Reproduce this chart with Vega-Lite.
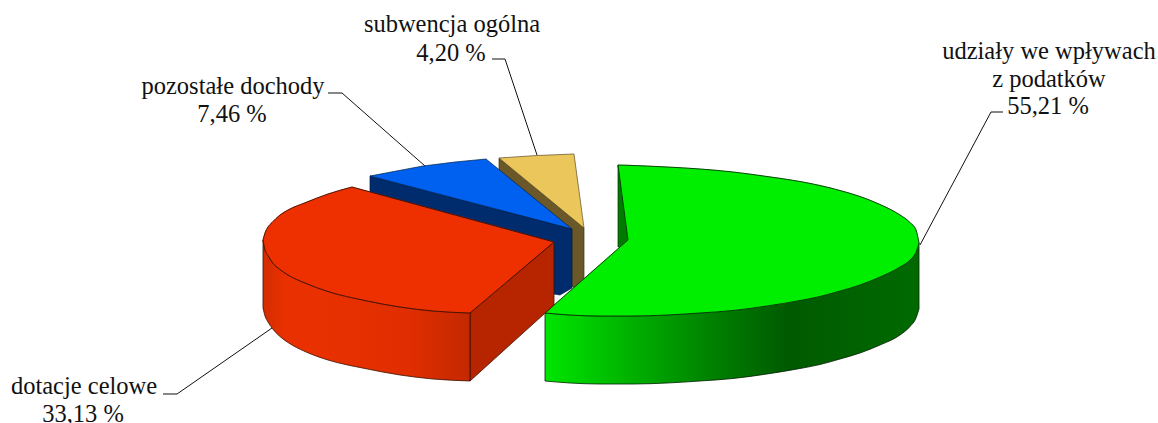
{"$schema":"https://vega.github.io/schema/vega-lite/v6.json","width":1158,"height":423,"padding":0,"autosize":"none","background":"white","config":{"view":{"stroke":null}},
"datasets":{
"faces":[
{"face":"subwencja_side","x":499,"y":158,"y2":226},{"face":"subwencja_side","x":584,"y":228,"y2":296},
{"face":"subwencja_top","x":499,"y":158,"y2":158},{"face":"subwencja_top","x":537,"y":155.5,"y2":189.3},{"face":"subwencja_top","x":574,"y":154,"y2":219.8},{"face":"subwencja_top","x":584,"y":228,"y2":228},
{"face":"pozostale_side","x":370,"y":176,"y2":244},{"face":"pozostale_side","x":554,"y":224.3,"y2":294},{"face":"pozostale_side","x":560,"y":225.9,"y2":295},{"face":"pozostale_side","x":572,"y":229,"y2":288},
{"face":"pozostale_top","x":370,"y":176,"y2":176},{"face":"pozostale_top","x":423,"y":166,"y2":189.9},{"face":"pozostale_top","x":455,"y":162,"y2":198.3},{"face":"pozostale_top","x":486,"y":159,"y2":206.4},{"face":"pozostale_top","x":572,"y":229,"y2":229},
{"face":"udzialy_notch","x":618,"y":165,"y2":247},{"face":"udzialy_notch","x":619,"y":172.5,"y2":247},{"face":"udzialy_notch","x":628,"y":240,"y2":240},
{"face":"udzialy_side","x":545,"y":313,"y2":381},{"face":"udzialy_side","x":570,"y":315,"y2":383},{"face":"udzialy_side","x":600,"y":316,"y2":384},{"face":"udzialy_side","x":633,"y":316,"y2":384},{"face":"udzialy_side","x":667,"y":315,"y2":383},{"face":"udzialy_side","x":700,"y":313,"y2":381},{"face":"udzialy_side","x":733,"y":310.5,"y2":378.5},{"face":"udzialy_side","x":767,"y":306,"y2":374},{"face":"udzialy_side","x":800,"y":300.5,"y2":368.5},{"face":"udzialy_side","x":820,"y":296.5,"y2":364.5},{"face":"udzialy_side","x":840,"y":291,"y2":359},{"face":"udzialy_side","x":860,"y":285,"y2":353},{"face":"udzialy_side","x":880,"y":277,"y2":345},{"face":"udzialy_side","x":900,"y":267,"y2":335},{"face":"udzialy_side","x":910,"y":260,"y2":326.5},{"face":"udzialy_side","x":916,"y":252,"y2":318},{"face":"udzialy_side","x":919,"y":243,"y2":309},
{"face":"udzialy_top_a","x":545,"y":313,"y2":313},{"face":"udzialy_top_a","x":570,"y":291,"y2":315},{"face":"udzialy_top_a","x":600,"y":264.6,"y2":316},{"face":"udzialy_top_a","x":628,"y":240,"y2":316},
{"face":"udzialy_top_c","x":618,"y":165,"y2":165},{"face":"udzialy_top_c","x":628,"y":165.3,"y2":240},
{"face":"udzialy_top_b","x":628,"y":165.3,"y2":316},{"face":"udzialy_top_b","x":667,"y":167,"y2":315},{"face":"udzialy_top_b","x":700,"y":169,"y2":313},{"face":"udzialy_top_b","x":733,"y":172,"y2":310.5},{"face":"udzialy_top_b","x":767,"y":176.5,"y2":306},{"face":"udzialy_top_b","x":800,"y":181.5,"y2":300.5},{"face":"udzialy_top_b","x":820,"y":185.5,"y2":296.5},{"face":"udzialy_top_b","x":840,"y":190.5,"y2":291},{"face":"udzialy_top_b","x":860,"y":196.5,"y2":285},{"face":"udzialy_top_b","x":880,"y":204.5,"y2":277},{"face":"udzialy_top_b","x":900,"y":215,"y2":267},{"face":"udzialy_top_b","x":910,"y":222.5,"y2":260},{"face":"udzialy_top_b","x":916,"y":230,"y2":252},{"face":"udzialy_top_b","x":919,"y":243,"y2":243},
{"face":"dotacje_end","x":470,"y":313,"y2":381},{"face":"dotacje_end","x":554,"y":242,"y2":305},
{"face":"dotacje_side","x":263,"y":240,"y2":308},{"face":"dotacje_side","x":265,"y":250,"y2":316},{"face":"dotacje_side","x":268,"y":255.5,"y2":322},{"face":"dotacje_side","x":272,"y":262,"y2":328},{"face":"dotacje_side","x":280,"y":269.5,"y2":336.5},{"face":"dotacje_side","x":288,"y":275,"y2":342.5},{"face":"dotacje_side","x":305,"y":283,"y2":351.5},{"face":"dotacje_side","x":328,"y":291.5,"y2":360},{"face":"dotacje_side","x":365,"y":300.5,"y2":368.5},{"face":"dotacje_side","x":400,"y":307,"y2":375},{"face":"dotacje_side","x":433,"y":311,"y2":379},{"face":"dotacje_side","x":470,"y":313,"y2":381},
{"face":"dotacje_top_a","x":263,"y":240,"y2":240},{"face":"dotacje_top_a","x":265,"y":233,"y2":250},{"face":"dotacje_top_a","x":268,"y":227,"y2":255.5},{"face":"dotacje_top_a","x":272,"y":222.5,"y2":262},{"face":"dotacje_top_a","x":280,"y":215,"y2":269.5},{"face":"dotacje_top_a","x":288,"y":210,"y2":275},{"face":"dotacje_top_a","x":305,"y":202.8,"y2":283},{"face":"dotacje_top_a","x":328,"y":194,"y2":291.5},{"face":"dotacje_top_a","x":352,"y":187,"y2":298},
{"face":"dotacje_top_b","x":352,"y":187,"y2":298},{"face":"dotacje_top_b","x":365,"y":190.5,"y2":300.5},{"face":"dotacje_top_b","x":400,"y":200,"y2":307},{"face":"dotacje_top_b","x":433,"y":209,"y2":311},{"face":"dotacje_top_b","x":470,"y":219,"y2":313},
{"face":"dotacje_top_c","x":470,"y":219,"y2":313},{"face":"dotacje_top_c","x":554,"y":242,"y2":242}
],
"edges":[
{"path":"udzialy_a","n":1,"x":545,"y":313},{"path":"udzialy_a","n":2,"x":628,"y":240},
{"path":"udzialy_b","n":1,"x":618,"y":165},{"path":"udzialy_b","n":2,"x":628,"y":240},
{"path":"udzialy_top","n":1,"x":618,"y":165},{"path":"udzialy_top","n":2,"x":628,"y":165.3},{"path":"udzialy_top","n":3,"x":667,"y":167},{"path":"udzialy_top","n":4,"x":700,"y":169},{"path":"udzialy_top","n":5,"x":733,"y":172},{"path":"udzialy_top","n":6,"x":767,"y":176.5},{"path":"udzialy_top","n":7,"x":800,"y":181.5},{"path":"udzialy_top","n":8,"x":820,"y":185.5},{"path":"udzialy_top","n":9,"x":840,"y":190.5},{"path":"udzialy_top","n":10,"x":860,"y":196.5},{"path":"udzialy_top","n":11,"x":880,"y":204.5},{"path":"udzialy_top","n":12,"x":900,"y":215},{"path":"udzialy_top","n":13,"x":910,"y":222.5},{"path":"udzialy_top","n":14,"x":916,"y":230},{"path":"udzialy_top","n":15,"x":919,"y":243},
{"path":"udzialy_low","n":1,"x":545,"y":313},{"path":"udzialy_low","n":2,"x":570,"y":315},{"path":"udzialy_low","n":3,"x":600,"y":316},{"path":"udzialy_low","n":4,"x":633,"y":316},{"path":"udzialy_low","n":5,"x":667,"y":315},{"path":"udzialy_low","n":6,"x":700,"y":313},{"path":"udzialy_low","n":7,"x":733,"y":310.5},{"path":"udzialy_low","n":8,"x":767,"y":306},{"path":"udzialy_low","n":9,"x":800,"y":300.5},{"path":"udzialy_low","n":10,"x":820,"y":296.5},{"path":"udzialy_low","n":11,"x":840,"y":291},{"path":"udzialy_low","n":12,"x":860,"y":285},{"path":"udzialy_low","n":13,"x":880,"y":277},{"path":"udzialy_low","n":14,"x":900,"y":267},{"path":"udzialy_low","n":15,"x":910,"y":260},{"path":"udzialy_low","n":16,"x":916,"y":252},{"path":"udzialy_low","n":17,"x":919,"y":243}
],
"redEdges":[
{"path":"dotacje_top","n":1,"x":263,"y":240},{"path":"dotacje_top","n":2,"x":265,"y":233},{"path":"dotacje_top","n":3,"x":268,"y":227},{"path":"dotacje_top","n":4,"x":272,"y":222.5},{"path":"dotacje_top","n":5,"x":280,"y":215},{"path":"dotacje_top","n":6,"x":288,"y":210},{"path":"dotacje_top","n":7,"x":305,"y":202.8},{"path":"dotacje_top","n":8,"x":328,"y":194},{"path":"dotacje_top","n":9,"x":352,"y":187},
{"path":"dotacje_line","n":1,"x":352,"y":187},{"path":"dotacje_line","n":2,"x":554,"y":242},
{"path":"dotacje_end","n":1,"x":470,"y":313},{"path":"dotacje_end","n":2,"x":554,"y":242},
{"path":"dotacje_low","n":1,"x":263,"y":240},{"path":"dotacje_low","n":2,"x":265,"y":250},{"path":"dotacje_low","n":3,"x":268,"y":255.5},{"path":"dotacje_low","n":4,"x":272,"y":262},{"path":"dotacje_low","n":5,"x":280,"y":269.5},{"path":"dotacje_low","n":6,"x":288,"y":275},{"path":"dotacje_low","n":7,"x":305,"y":283},{"path":"dotacje_low","n":8,"x":328,"y":291.5},{"path":"dotacje_low","n":9,"x":365,"y":300.5},{"path":"dotacje_low","n":10,"x":400,"y":307},{"path":"dotacje_low","n":11,"x":433,"y":311},{"path":"dotacje_low","n":12,"x":470,"y":313}
],
"leaders":[
{"slice":"pozostałe dochody","n":1,"x":328,"y":93},{"slice":"pozostałe dochody","n":2,"x":342,"y":93},{"slice":"pozostałe dochody","n":3,"x":425,"y":166},
{"slice":"subwencja ogólna","n":1,"x":492,"y":59},{"slice":"subwencja ogólna","n":2,"x":505,"y":59},{"slice":"subwencja ogólna","n":3,"x":537,"y":155},
{"slice":"udziały we wpływach","n":1,"x":1003,"y":112},{"slice":"udziały we wpływach","n":2,"x":991,"y":112},{"slice":"udziały we wpływach","n":3,"x":920,"y":245},
{"slice":"dotacje celowe","n":1,"x":163,"y":394},{"slice":"dotacje celowe","n":2,"x":177,"y":394},{"slice":"dotacje celowe","n":3,"x":272,"y":328}
],
"labels":[
{"text":"subwencja ogólna","x":452,"y":25},{"text":"4,20 %","x":451,"y":54},
{"text":"pozostałe dochody","x":233,"y":87},{"text":"7,46 %","x":232,"y":115},
{"text":"udziały we wpływach","x":1049,"y":52},{"text":"z podatków","x":1049,"y":80},{"text":"55,21 %","x":1048,"y":107},
{"text":"dotacje celowe","x":84,"y":387},{"text":"33,13 %","x":83,"y":415}
]},
"data":{"name":"faces"},
"encoding":{"x":{"field":"x","type":"quantitative","scale":{"domain":[0,1158]},"axis":null},"y":{"field":"y","type":"quantitative","scale":{"domain":[423,0]},"axis":null}},
"layer":[
{"data":{"name":"leaders"},"mark":{"type":"line","stroke":"#111111","strokeWidth":1},"encoding":{"detail":{"field":"slice"},"order":{"field":"n"}}},
{"transform":[{"filter":"datum.face==='subwencja_side'"}],"mark":{"type":"area","fill":"#6a5828","stroke":"#3a3010","strokeWidth":0.7},"encoding":{"y2":{"field":"y2"}}},
{"transform":[{"filter":"datum.face==='subwencja_top'"}],"mark":{"type":"area","fill":"#ebc65a","stroke":"#5a4c24","strokeWidth":0.7},"encoding":{"y2":{"field":"y2"}}},
{"transform":[{"filter":"datum.face==='pozostale_side'"}],"mark":{"type":"area","fill":"#002c6e","stroke":"#001840","strokeWidth":0.7},"encoding":{"y2":{"field":"y2"}}},
{"transform":[{"filter":"datum.face==='pozostale_top'"}],"mark":{"type":"area","fill":"#0060f0","stroke":"#00204a","strokeWidth":0.7},"encoding":{"y2":{"field":"y2"}}},
{"transform":[{"filter":"datum.face==='udzialy_notch'"}],"mark":{"type":"area","fill":"#007a00","stroke":"#003000","strokeWidth":0.7},"encoding":{"y2":{"field":"y2"}}},
{"transform":[{"filter":"datum.face==='udzialy_side'"}],"mark":{"type":"area","interpolate":"monotone","stroke":"#002000","strokeWidth":0.8,"fill":{"gradient":"linear","x1":0,"x2":1,"y1":0,"y2":0,"stops":[{"offset":0,"color":"#00e600"},{"offset":0.25,"color":"#00ac00"},{"offset":0.45,"color":"#008000"},{"offset":0.65,"color":"#005a00"},{"offset":1,"color":"#006a00"}]}},"encoding":{"y2":{"field":"y2"}}},
{"transform":[{"filter":"datum.face==='udzialy_top_a'||datum.face==='udzialy_top_b'||datum.face==='udzialy_top_c'"}],"mark":{"type":"area","interpolate":"monotone","fill":"#00ee00","stroke":"#00ee00","strokeWidth":0.5},"encoding":{"y2":{"field":"y2"},"detail":{"field":"face"}}},
{"data":{"name":"edges"},"mark":{"type":"line","interpolate":"monotone","stroke":"#063006","strokeWidth":0.9},"encoding":{"detail":{"field":"path"},"order":{"field":"n"}}},
{"transform":[{"filter":"datum.face==='dotacje_end'"}],"mark":{"type":"area","fill":"#b62400","stroke":"#3a1000","strokeWidth":0.8},"encoding":{"y2":{"field":"y2"}}},
{"transform":[{"filter":"datum.face==='dotacje_side'"}],"mark":{"type":"area","interpolate":"monotone","stroke":"#3a1000","strokeWidth":0.8,"fill":{"gradient":"linear","x1":0,"x2":1,"y1":0,"y2":0,"stops":[{"offset":0,"color":"#d42c00"},{"offset":0.1,"color":"#e83000"},{"offset":0.3,"color":"#e83000"},{"offset":0.7,"color":"#e02e00"},{"offset":1,"color":"#c42800"}]}},"encoding":{"y2":{"field":"y2"}}},
{"transform":[{"filter":"datum.face==='dotacje_top_a'||datum.face==='dotacje_top_b'||datum.face==='dotacje_top_c'"}],"mark":{"type":"area","interpolate":"monotone","fill":"#ee3000","stroke":"#ee3000","strokeWidth":0.5},"encoding":{"y2":{"field":"y2"},"detail":{"field":"face"}}},
{"data":{"name":"redEdges"},"mark":{"type":"line","interpolate":"monotone","stroke":"#3a1000","strokeWidth":0.9},"encoding":{"detail":{"field":"path"},"order":{"field":"n"}}},
{"data":{"name":"labels"},"mark":{"type":"text","font":"Liberation Serif","fontSize":24.5,"color":"#111111","align":"center","baseline":"middle"},"encoding":{"text":{"field":"text"}}}
]}
